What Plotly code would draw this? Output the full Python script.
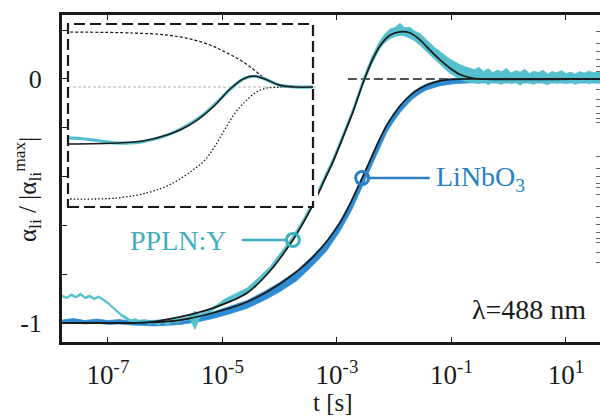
import plotly.graph_objects as go

# ---------------- main panel: normalised light-induced absorption vs time ----------------
# PPLN:Y fit (log10 t, value)
ppln_fit_logt = [-7.80, -6.27, -5.74, -5.17, -4.57, -4.17, -3.77, -3.59, -3.42, -3.25, -3.07,
                 -2.90, -2.72, -2.55, -2.39, -2.25, -2.07, -1.90, -1.73, -1.55, -1.38, -1.20,
                 -1.03, -0.85, -0.68, -0.50, 1.60]
ppln_fit_val = [-1.000, -0.996, -0.975, -0.939, -0.877, -0.787, -0.660, -0.590, -0.516, -0.430,
                -0.340, -0.242, -0.135, -0.020, 0.074, 0.135, 0.180, 0.193, 0.189, 0.160, 0.119,
                0.078, 0.045, 0.018, 0.006, 0.000, 0.000]

# PPLN:Y measured trace, noise band (log10 t, upper, lower)
ppln_data_logt = [-7.80, -7.72, -7.64, -7.56, -7.48, -7.40, -7.32, -7.24, -7.16, -7.08, -7.00,
                  -6.92, -6.84, -6.76, -6.68, -6.60, -6.52, -6.44, -6.36, -6.28, -6.20, -6.12,
                  -6.04, -5.96, -5.88, -5.80, -5.72, -5.64, -5.56, -5.48, -5.40, -5.30, -5.20,
                  -5.10, -4.96, -4.80, -4.69, -4.57, -4.43, -4.30, -4.17, -3.97, -3.77, -3.59,
                  -3.42, -3.25, -3.07, -2.90, -2.72, -2.55, -2.39, -2.25, -2.16, -2.07, -1.98,
                  -1.90, -1.82, -1.73, -1.64, -1.55, -1.46, -1.38, -1.29, -1.20, -1.11, -1.03,
                  -0.94, -0.85, -0.76, -0.68,
                  -0.60, -0.52, -0.44, -0.36, -0.28, -0.20, -0.12, -0.04, 0.04, 0.12, 0.20,
                  0.28, 0.36, 0.44, 0.52, 0.60, 0.68, 0.76, 0.84, 0.92, 1.00, 1.08, 1.16, 1.24,
                  1.32, 1.40, 1.48, 1.56, 1.60]
ppln_data_hi = [-0.886, -0.894, -0.880, -0.891, -0.877, -0.893, -0.885, -0.897, -0.889, -0.901,
                -0.914, -0.932, -0.950, -0.964, -0.975, -0.987, -0.982, -0.992, -0.986, -0.994,
                -0.988, -0.996, -0.986, -0.992, -0.984, -0.986, -0.978, -0.980, -0.968, -0.952,
                -0.964, -0.954, -0.940, -0.926, -0.902, -0.884, -0.870, -0.857, -0.827, -0.798,
                -0.770, -0.707, -0.644, -0.574, -0.500, -0.414, -0.324, -0.226, -0.119, -0.002,
                0.092, 0.156, 0.185, 0.205, 0.212, 0.228, 0.210, 0.212, 0.196, 0.186, 0.165,
                0.150, 0.128, 0.112, 0.096, 0.082, 0.070, 0.058, 0.050, 0.044,
                0.038, 0.048, 0.030, 0.042, 0.026, 0.036, 0.030, 0.044, 0.024, 0.034, 0.028,
                0.040, 0.022, 0.032, 0.026, 0.036, 0.020, 0.030, 0.025, 0.034, 0.022, 0.028,
                0.020, 0.030, 0.024, 0.032, 0.026, 0.030, 0.028]
ppln_data_lo = [-0.894, -0.900, -0.890, -0.898, -0.887, -0.901, -0.895, -0.905, -0.897, -0.909,
                -0.922, -0.940, -0.958, -0.974, -0.986, -0.995, -0.997, -1.002, -0.996, -1.006,
                -1.000, -1.008, -0.998, -1.012, -0.995, -1.000, -0.992, -0.990, -0.986, -1.026,
                -0.978, -0.968, -0.952, -0.938, -0.921, -0.902, -0.889, -0.877, -0.846, -0.816,
                -0.788, -0.726, -0.664, -0.594, -0.520, -0.436, -0.346, -0.248, -0.141, -0.028,
                0.062, 0.124, 0.150, 0.165, 0.175, 0.178, 0.176, 0.168, 0.155, 0.138, 0.118,
                0.097, 0.078, 0.058, 0.040, 0.024, 0.010, -0.002, -0.010, -0.014,
                -0.014, -0.020, -0.010, -0.024, -0.012, -0.018, -0.022, -0.010, -0.020, -0.014,
                -0.026, -0.012, -0.018, -0.022, -0.010, -0.016, -0.024, -0.012, -0.018, -0.014,
                -0.020, -0.012, -0.022, -0.016, -0.010, -0.020, -0.014, -0.018, -0.016]

# LiNbO3 fit
linbo_fit_logt = [-7.80, -6.79, -6.27, -5.74, -5.17, -4.57, -4.00, -3.42, -2.95, -2.56, -2.30,
                  -2.13, -1.90, -1.67, -1.43, -1.20, -0.97, -0.68, 1.60]
linbo_fit_val = [-1.000, -1.000, -0.998, -0.988, -0.959, -0.914, -0.840, -0.730, -0.590, -0.406,
                 -0.270, -0.189, -0.111, -0.057, -0.025, -0.008, -0.002, 0.000, 0.000]

# LiNbO3 measured trace, noise band
linbo_data_logt = [-7.80, -7.60, -7.40, -7.20, -7.00, -6.80, -6.60, -6.40, -6.20, -6.00, -5.74,
                   -5.45, -5.17, -4.87, -4.57, -4.28, -4.00, -3.71, -3.42, -3.18, -2.95, -2.75,
                   -2.56, -2.43, -2.30, -2.13, -2.02, -1.90, -1.78, -1.67, -1.55, -1.43, -1.20,
                   -0.97, -0.68, 1.60]
linbo_data_hi = [-0.988, -0.982, -0.990, -0.984, -0.990, -0.986, -0.992, -0.988, -0.990, -0.986,
                 -0.984, -0.970, -0.955, -0.932, -0.908, -0.872, -0.834, -0.788, -0.724, -0.664,
                 -0.584, -0.500, -0.400, -0.334, -0.265, -0.184, -0.145, -0.106, -0.078, -0.052,
                 -0.034, -0.020, -0.004, 0.002, 0.004, 0.004]
linbo_data_lo = [-1.002, -0.998, -1.004, -1.000, -1.006, -1.004, -1.008, -1.010, -1.012, -1.010,
                 -1.006, -0.996, -0.982, -0.962, -0.940, -0.908, -0.872, -0.828, -0.764, -0.704,
                 -0.624, -0.540, -0.440, -0.372, -0.302, -0.218, -0.178, -0.138, -0.106, -0.080,
                 -0.060, -0.044, -0.028, -0.020, -0.016, -0.016]

# horizontal zero reference
zero_logt = [-2.81, 1.60]
zero_val = [0.0, 0.0]

# label anchors on the fits
ppln_mark = (-3.77, -0.660)
linbo_mark = (-2.56, -0.406)
ppln_leader_logt = [-4.66, -3.87]
linbo_leader_logt = [-2.46, -1.38]

xtick_exp = [-7, -5, -3, -1, 1]
ytick_vals = [-1.0, -0.8, -0.6, -0.4, -0.2, 0.0, 0.2]
ytick_text = ["-1", "", "", "", "", "0", ""]

# ticks of the right-hand frame axis (scale runs top to bottom, 0 = top edge, 1 = bottom edge)
right_tick_pos = [0.049, 0.086, 0.113, 0.135, 0.156, 0.174, 0.229, 0.257, 0.281, 0.300, 0.315,
                  0.330, 0.434, 0.468, 0.495, 0.514, 0.529, 0.550, 0.587, 0.618, 0.642, 0.664,
                  0.682, 0.697, 0.725, 0.758]

# ---------------- inset: decomposition into two components ----------------
inset_fit_x = [0.0, 0.200, 0.306, 0.404, 0.465, 0.527, 0.592, 0.661, 0.714, 0.755, 0.804, 0.861,
               0.927, 1.0]
inset_fit_y = [-0.509, -0.500, -0.482, -0.429, -0.375, -0.295, -0.179, -0.018, 0.071, 0.098,
               0.071, 0.018, 0.0, 0.0]
inset_data_x = [0.0, 0.069, 0.131, 0.200, 0.253, 0.306, 0.376, 0.437, 0.498, 0.559, 0.620, 0.682,
                0.722, 0.763, 0.804, 0.861, 0.927, 1.0]
inset_data_y = [-0.455, -0.464, -0.482, -0.500, -0.500, -0.487, -0.451, -0.401, -0.330, -0.236,
                -0.111, 0.018, 0.078, 0.096, 0.071, 0.018, 0.0, 0.0]
inset_pos_x = [0.008, 0.265, 0.404, 0.498, 0.580, 0.641, 0.702, 0.755, 0.796, 0.837, 0.878, 0.927,
               1.0]
inset_pos_y = [0.491, 0.482, 0.464, 0.429, 0.375, 0.313, 0.241, 0.161, 0.089, 0.036, 0.009, 0.0,
               0.0]
inset_neg_x = [0.008, 0.200, 0.335, 0.429, 0.510, 0.559, 0.600, 0.641, 0.682, 0.722, 0.763, 0.804,
               0.853, 0.906, 1.0]
inset_neg_y = [-1.0, -0.991, -0.938, -0.857, -0.741, -0.652, -0.527, -0.375, -0.232, -0.134,
               -0.054, -0.013, -0.003, 0.0, 0.0]
inset_zero_x = [0.0, 1.02]
inset_zero_y = [0.0, 0.0]

CYAN = "#55c0cd"
CYAN_TXT = "#3eafbf"
BLUE = "#2e8bd2"
BLUE_TXT = "#2a80c2"
INK = "#1a1a1a"
SERIF = "Liberation Serif, Times New Roman, serif"


def t(vals):
    return [10 ** v for v in vals]


fig = go.Figure()

# reference line at zero
fig.add_trace(go.Scatter(x=t(zero_logt), y=zero_val, mode="lines",
                         line=dict(color=INK, width=1.6, dash="9px,4px"), hoverinfo="skip"))


def band(logt, lo, hi, color):
    fig.add_trace(go.Scatter(x=t(logt), y=lo, mode="lines", line=dict(color=color, width=0.8),
                             hoverinfo="skip"))
    fig.add_trace(go.Scatter(x=t(logt), y=hi, mode="lines", line=dict(color=color, width=0.8),
                             fill="tonexty", fillcolor=color, hoverinfo="skip"))


band(linbo_data_logt, linbo_data_lo, linbo_data_hi, BLUE)
band(ppln_data_logt, ppln_data_lo, ppln_data_hi, CYAN)

fig.add_trace(go.Scatter(x=t(linbo_fit_logt), y=linbo_fit_val, mode="lines",
                         line=dict(color=INK, width=1.7, shape="spline", smoothing=0.8)))
fig.add_trace(go.Scatter(x=t(ppln_fit_logt), y=ppln_fit_val, mode="lines",
                         line=dict(color=INK, width=1.7, shape="spline", smoothing=0.8)))

# label leaders with ring markers on the fits
fig.add_trace(go.Scatter(x=t(ppln_leader_logt), y=[ppln_mark[1]] * 2, mode="lines",
                         line=dict(color=CYAN_TXT, width=2.6)))
fig.add_trace(go.Scatter(x=t(linbo_leader_logt), y=[linbo_mark[1]] * 2, mode="lines",
                         line=dict(color=BLUE_TXT, width=2.6)))
fig.add_trace(go.Scatter(x=[10 ** ppln_mark[0]], y=[ppln_mark[1]], mode="markers",
                         marker=dict(symbol="circle-open", size=13, color=CYAN_TXT,
                                     line=dict(color=CYAN_TXT, width=3))))
fig.add_trace(go.Scatter(x=[10 ** linbo_mark[0]], y=[linbo_mark[1]], mode="markers",
                         marker=dict(symbol="circle-open", size=13, color=BLUE_TXT,
                                     line=dict(color=BLUE_TXT, width=3))))

# inset traces
fig.add_trace(go.Scatter(x=inset_zero_x, y=inset_zero_y, xaxis="x2", yaxis="y2", mode="lines",
                         line=dict(color="#b0b0b0", width=1, dash="3px,2px")))
fig.add_trace(go.Scatter(x=inset_pos_x, y=inset_pos_y, xaxis="x2", yaxis="y2", mode="lines",
                         line=dict(color=INK, width=1.2, dash="3px,2px", shape="spline")))
fig.add_trace(go.Scatter(x=inset_neg_x, y=inset_neg_y, xaxis="x2", yaxis="y2", mode="lines",
                         line=dict(color=INK, width=1.3, dash="1.5px,2px", shape="spline")))
fig.add_trace(go.Scatter(x=inset_data_x, y=inset_data_y, xaxis="x2", yaxis="y2", mode="lines",
                         line=dict(color=CYAN, width=3.2, shape="spline")))
fig.add_trace(go.Scatter(x=inset_fit_x, y=inset_fit_y, xaxis="x2", yaxis="y2", mode="lines",
                         line=dict(color=INK, width=1.5, shape="spline", smoothing=0.8)))

# invisible anchor point so the right-hand tick axis is drawn
fig.add_trace(go.Scatter(x=[1e-3], y=[0.5], xaxis="x", yaxis="y3", mode="markers",
                         marker=dict(opacity=0, size=1), hoverinfo="skip"))

fig.update_traces(showlegend=False)

W, H = 600, 416
ML, MR, MT, MB = 62, 0, 15, 74
PW, PH = W - ML - MR, H - MT - MB


def px(xp):
    return (xp - ML) / PW


def py(yp):
    return (H - MB - yp) / PH


fig.update_layout(
    width=W, height=H,
    margin=dict(l=ML, r=MR, t=MT, b=MB),
    paper_bgcolor="white", plot_bgcolor="white",
    font=dict(family=SERIF, color=INK),
    xaxis=dict(type="log", range=[-7.803, 1.594], showgrid=False, zeroline=False,
               showline=True, linewidth=3, linecolor=INK, mirror="ticks",
               ticks="inside", ticklen=5, tickwidth=1.2, tickcolor=INK,
               tickvals=[10 ** e for e in xtick_exp],
               ticktext=["10<sup>%d</sup>" % e for e in xtick_exp],
               tickfont=dict(size=27, family=SERIF, color=INK), ticklabelstandoff=7),
    yaxis=dict(range=[-1.078, 0.262], showgrid=False, zeroline=False,
               showline=True, linewidth=3, linecolor=INK,
               ticks="inside", ticklen=5, tickwidth=1.2, tickcolor=INK,
               tickvals=ytick_vals, ticktext=ytick_text,
               tickfont=dict(size=26, family=SERIF, color=INK), ticklabelstandoff=12),
    yaxis3=dict(overlaying="y", side="right", anchor="x", range=[1, 0],
                showgrid=False, zeroline=False, showline=False, showticklabels=False,
                ticks="inside", ticklen=4, tickwidth=1, tickcolor="#666",
                tickvals=right_tick_pos),
    xaxis2=dict(domain=[px(68), px(318)], range=[0, 1.0204], visible=False, anchor="y2"),
    yaxis2=dict(domain=[py(207), py(24)], range=[-1.0714, 0.5625], visible=False, anchor="x2"),
    shapes=[dict(type="rect", xref="paper", yref="paper", x0=px(68), x1=px(313),
                 y0=py(207), y1=py(24), line=dict(color=INK, width=2.2, dash="11px,5px"))],
    annotations=[
        dict(text="PPLN:Y", x=ppln_leader_logt[0] - 0.24, y=ppln_mark[1], xref="x", yref="y",
             xanchor="right", yanchor="middle", showarrow=False,
             font=dict(size=28, family=SERIF, color=CYAN_TXT)),
        dict(text="LiNbO<sub>3</sub>", x=linbo_leader_logt[1] + 0.08, y=linbo_mark[1],
             xref="x", yref="y", xanchor="left", yanchor="middle", showarrow=False,
             font=dict(size=28, family=SERIF, color=BLUE_TXT)),
        dict(text="λ=488 nm", x=px(588), y=py(309), xref="paper", yref="paper",
             xanchor="right", yanchor="middle", showarrow=False,
             font=dict(size=28, family=SERIF, color=INK)),
        dict(text="t [s]", x=px(333), y=py(402), xref="paper", yref="paper",
             xanchor="center", yanchor="middle", showarrow=False,
             font=dict(size=25, family=SERIF, color=INK)),
        dict(text="α<sub>li</sub> / |α<sub>li</sub><sup>max</sup>|", x=px(27), y=py(190),
             xref="paper", yref="paper", textangle=-90, xanchor="center", yanchor="middle",
             showarrow=False, font=dict(size=25, family=SERIF, color=INK)),
    ],
)

fig.write_html("out.html")
